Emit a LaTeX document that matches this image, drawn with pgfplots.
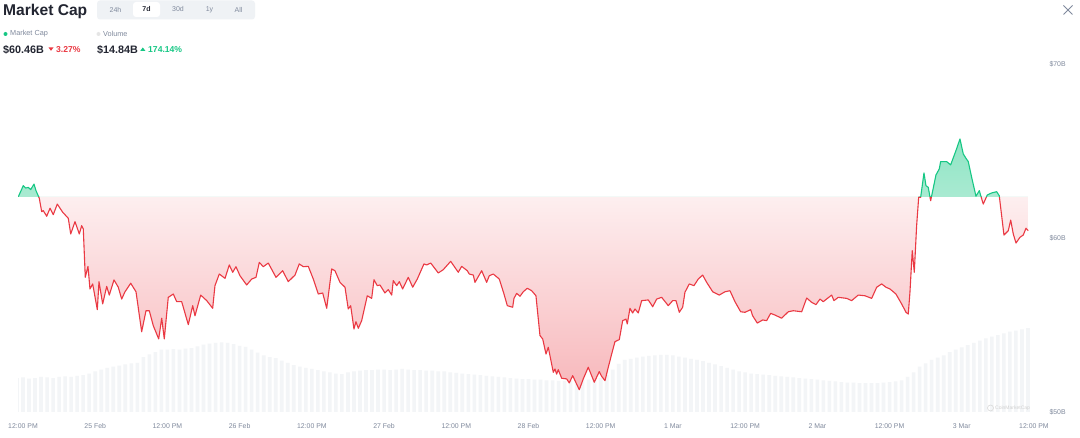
\documentclass[border=0pt]{standalone}
\usepackage{pgfplots}
\usepackage{pgfplotstable}
\pgfplotsset{compat=1.18}
\usepackage{fontspec}
\setmainfont{Liberation Sans}
\definecolor{cmcred}{RGB}{234,57,67}
\definecolor{cmcgreen}{RGB}{22,199,132}
\definecolor{lbl}{RGB}{128,138,157}
\definecolor{dark}{RGB}{34,37,49}
\definecolor{volc}{RGB}{243,245,247}
\definecolor{btnbg}{RGB}{239,242,245}

\pgfplotstableread{
h v
-0.78 62.37
0.05 63.01
0.45 62.87
0.88 62.91
1.28 62.78
1.83 63.10
2.16 62.72
2.71 62.28
3.11 61.51
3.37 61.57
3.94 61.25
4.49 61.71
5.03 61.34
5.70 61.95
6.60 61.48
7.53 61.13
7.93 60.23
8.64 60.94
9.36 60.23
9.75 60.71
10.02 60.52
10.35 57.74
10.80 58.37
11.13 57.07
11.58 57.36
12.35 55.88
12.63 57.49
13.24 56.21
13.91 57.22
14.34 56.72
15.12 57.59
15.84 57.17
16.40 56.49
16.95 56.91
17.90 57.40
18.78 56.91
19.72 54.61
20.44 55.82
20.99 55.82
21.65 54.96
22.55 54.20
23.05 55.39
23.48 54.20
24.14 56.59
24.98 56.78
25.54 56.34
26.37 56.34
27.47 55.02
28.20 56.11
28.58 55.53
29.53 56.72
30.53 56.40
31.52 55.96
31.90 57.26
32.62 57.93
33.57 57.68
34.28 58.45
34.85 58.03
35.39 58.35
36.06 57.83
37.17 57.30
38.00 57.64
38.72 57.74
39.27 58.60
39.93 58.35
40.76 58.56
42.04 57.74
43.15 58.12
44.08 57.49
45.20 57.87
45.91 58.51
46.58 58.35
47.41 58.37
48.24 57.64
49.07 56.78
49.80 56.84
50.47 55.96
51.30 58.22
51.84 58.12
52.68 57.45
53.51 57.17
54.05 55.92
54.45 56.11
55.00 54.77
55.33 55.19
55.72 54.81
56.28 55.25
57.21 56.68
57.94 56.53
58.33 57.60
58.87 57.26
59.32 57.30
60.15 56.84
60.70 57.03
61.27 56.72
61.53 57.55
62.10 57.26
62.53 57.49
63.09 57.07
64.02 57.74
64.76 57.17
65.52 57.64
66.63 58.51
67.08 58.45
67.75 58.56
69.01 57.99
69.84 58.18
71.07 58.66
72.33 58.03
72.90 58.37
73.83 58.12
74.16 57.93
74.83 57.87
75.11 57.45
76.22 58.12
77.05 57.45
77.48 57.83
78.15 57.93
79.15 57.64
79.93 56.78
80.48 56.11
81.37 56.02
81.59 56.53
82.04 56.82
82.59 56.65
83.13 56.91
83.80 57.11
84.53 56.97
85.24 56.68
85.91 54.39
86.36 54.20
86.91 53.33
87.29 53.72
88.12 52.28
88.40 52.47
88.68 52.18
88.95 52.43
89.51 51.94
90.35 51.90
90.78 51.67
91.34 52.09
92.44 51.28
93.10 51.90
93.93 52.57
94.93 51.71
95.76 52.32
96.16 52.05
96.71 51.80
97.26 52.57
97.82 53.33
98.37 54.04
99.09 54.16
99.65 55.25
100.20 55.34
100.42 55.06
100.86 55.96
101.31 55.69
101.70 55.92
102.24 55.69
102.81 56.40
103.91 56.44
104.64 56.05
105.30 56.49
106.13 56.59
107.23 56.11
107.96 56.40
108.51 56.40
109.06 55.73
109.62 56.02
110.00 56.88
110.72 57.36
111.50 57.26
112.21 57.64
112.94 57.87
113.61 57.45
114.61 56.91
115.70 56.72
116.65 56.91
117.48 56.97
118.31 56.34
119.26 55.76
119.97 55.73
120.92 55.88
121.25 55.53
122.02 55.11
122.91 55.29
123.58 55.25
124.24 55.67
124.96 55.57
126.07 55.39
127.17 55.76
128.00 55.82
129.40 55.76
130.23 56.55
131.06 56.30
131.77 56.17
132.44 56.49
132.98 56.34
134.38 56.72
134.76 56.40
135.48 56.59
136.87 56.53
137.70 56.40
138.80 56.72
139.91 56.68
141.03 56.53
141.86 57.17
142.69 57.36
143.40 57.17
144.07 57.07
145.06 56.78
146.01 56.21
146.73 55.73
147.11 55.63
147.39 56.88
147.77 59.27
148.11 58.03
148.50 60.71
148.84 62.34
149.17 62.34
149.72 63.74
150.05 63.01
150.43 62.91
150.83 62.14
151.71 63.62
152.26 63.97
152.49 64.39
153.49 64.39
154.15 64.20
155.03 65.02
155.70 65.69
156.25 64.83
156.70 64.58
157.08 64.39
157.64 63.49
158.36 62.40
158.91 62.72
159.57 61.95
160.24 62.47
160.97 62.59
161.80 62.66
162.23 62.43
163.01 60.17
163.73 60.42
164.13 61.03
164.56 60.23
165.01 59.71
165.67 60.04
166.22 60.17
166.67 60.56
167.05 60.42
}\mcap

\pgfplotstableread{
h v
-1 6.0
0 6.1
1 5.9
2 6.0
3 6.2
4 6.1
5 6.0
6 6.2
7 6.3
8 6.2
9 6.4
10 6.5
11 6.8
12 7.2
13 7.5
14 7.8
15 8.0
16 8.2
17 8.4
18 8.6
19 8.7
20 9.7
21 10.2
22 10.6
23 11.0
24 11.0
25 11.1
26 11.0
27 11.2
28 11.3
29 11.6
30 11.9
31 12.1
32 12.2
33 12.3
34 12.2
35 12.0
36 11.7
37 11.5
38 11.0
39 10.5
40 10.0
41 9.7
42 9.5
43 9.1
44 8.7
45 8.3
46 8.0
47 7.8
48 7.6
49 7.4
50 7.2
51 7.0
52 6.8
53 6.7
54 7.0
55 7.2
56 7.3
57 7.4
58 7.4
59 7.5
60 7.5
61 7.4
62 7.5
63 7.6
64 7.5
65 7.4
66 7.4
67 7.3
68 7.3
69 7.2
70 7.2
71 7.0
72 6.9
73 6.8
74 6.7
75 6.6
76 6.5
77 6.4
78 6.3
79 6.2
80 6.1
81 6.0
82 5.9
83 5.8
84 5.8
85 5.7
86 5.7
87 5.6
88 5.6
89 5.5
90 5.5
91 5.5
92 5.6
93 5.6
94 5.7
95 5.8
96 6.0
97 6.5
98 7.5
99 8.5
100 9.2
101 9.4
102 9.6
103 9.8
104 9.9
105 10.0
106 10.1
107 10.1
108 10.0
109 9.8
110 9.6
111 9.4
112 9.2
113 9.0
114 8.7
115 8.4
116 8.1
117 7.8
118 7.5
119 7.2
120 7.0
121 6.8
122 6.7
123 6.6
124 6.5
125 6.4
126 6.3
127 6.2
128 6.1
129 6.0
130 5.9
131 5.8
132 5.7
133 5.6
134 5.5
135 5.4
136 5.3
137 5.2
138 5.2
139 5.1
140 5.1
141 5.1
142 5.1
143 5.2
144 5.3
145 5.4
146 5.6
147 6.2
148 7.0
149 8.0
150 8.6
151 9.2
152 9.6
153 10.0
154 10.6
155 11.0
156 11.4
157 11.8
158 12.2
159 12.6
160 13.0
161 13.3
162 13.6
163 13.9
164 14.2
165 14.4
166 14.6
167 14.84
}\vol

\begin{document}
\begin{tikzpicture}[x=1pt,y=1pt]
\path[use as bounding box, fill=white] (0,0) rectangle (1080,438);

% ---------- volume (hidden secondary axis)
\begin{axis}[at={(18pt,26pt)}, anchor=south west, scale only axis,
  width=1019pt, height=348pt, xmin=-0.83, xmax=168.5, ymin=0, ymax=61.5,
  hide axis]
\addplot[ybar, bar width=0.6, fill=volc, draw=none] table[x=h,y=v]{\vol};
\end{axis}

% ---------- market cap
\begin{axis}[at={(18pt,26pt)}, anchor=south west, scale only axis,
  width=1019pt, height=348pt, xmin=-0.83, xmax=168.5, ymin=50, ymax=70,
  axis line style={draw=none}, tick style={draw=none}, major tick length=0pt,
  xtick={0,12,...,168},
  xticklabels={12:00 PM,25 Feb,12:00 PM,26 Feb,12:00 PM,27 Feb,12:00 PM,28 Feb,12:00 PM,1 Mar,12:00 PM,2 Mar,12:00 PM,3 Mar,12:00 PM},
  ytick={50,60,70}, yticklabels={\$50B,\$60B,\$70B},
  yticklabel pos=right,
  tick label style={font=\fontsize{6.9}{8}\selectfont, text=lbl},
  xticklabel style={yshift=-8pt},
  yticklabel style={xshift=9pt},
  clip=true]
% area below baseline (red gradient)
\begin{scope}
\clip (axis cs:-5,40) rectangle (axis cs:175,62.37);
\addplot[draw=none, bottom color=cmcred!36, middle color=cmcred!10, top color=white]
  table[x=h,y=v]{\mcap} -- (axis cs:167.05,62.37) -- (axis cs:-0.78,62.37) -- cycle;
\addplot[cmcred, line width=1.1pt, line join=round] table[x=h,y=v]{\mcap};
\end{scope}
% area above baseline (green gradient)
\begin{scope}
\clip (axis cs:-5,62.37) rectangle (axis cs:175,80);
\addplot[draw=none, bottom color=white, middle color=white, top color=cmcgreen!48]
  table[x=h,y=v]{\mcap} -- (axis cs:167.05,62.37) -- (axis cs:-0.78,62.37) -- cycle;
\addplot[cmcgreen, line width=1.1pt, line join=round] table[x=h,y=v]{\mcap};
\end{scope}
\end{axis}

% ---------- header
\node[anchor=base west, inner sep=0, font=\fontsize{15.6}{18}\selectfont\bfseries, text=dark] at (3,438-16) {Market Cap};
\fill[btnbg, rounded corners=3pt] (97,438-19.5) rectangle (255,438-0.5);
\fill[white, rounded corners=3pt] (133,438-17) rectangle (160,438-2);
\begin{scope}[every node/.style={inner sep=0, font=\fontsize{7}{8}\selectfont}]
\node[text=lbl] at (115.5,438-9.5) {24h};
\node[text=dark, font=\fontsize{7}{8}\selectfont\bfseries] at (146.5,438-9.5) {7d};
\node[text=lbl] at (178,438-9.5) {30d};
\node[text=lbl] at (209.5,438-9.5) {1y};
\node[text=lbl] at (238.5,438-9.5) {All};
\end{scope}
% legend row
\fill[cmcgreen] (5.5,438-34) circle (2pt);
\node[anchor=west, inner sep=0, font=\fontsize{7.3}{8}\selectfont, text=lbl] at (10,438-34) {Market Cap};
\fill[black!10] (98.5,438-34) circle (2pt);
\node[anchor=west, inner sep=0, font=\fontsize{7.3}{8}\selectfont, text=lbl] at (103,438-34) {Volume};
% values row
\node[anchor=base west, inner sep=0, font=\fontsize{10.8}{12}\selectfont\bfseries, text=dark] at (3,438-53.5) {\$60.46B};
\fill[cmcred] (48.5,438-47.5) -- (53.5,438-47.5) -- (51,438-50.8) -- cycle;
\node[anchor=base west, inner sep=0, font=\fontsize{8.6}{10}\selectfont\bfseries, text=cmcred] at (56,438-53) {3.27\%};
\node[anchor=base west, inner sep=0, font=\fontsize{10.8}{12}\selectfont\bfseries, text=dark] at (97,438-53.5) {\$14.84B};
\fill[cmcgreen] (140.3,438-50.8) -- (145.3,438-50.8) -- (142.8,438-47.5) -- cycle;
\node[anchor=base west, inner sep=0, font=\fontsize{8.6}{10}\selectfont\bfseries, text=cmcgreen] at (148,438-53) {174.14\%};
% close icon
\draw[lbl, line width=0.9pt] (1063.5,438-5.5) -- (1072.5,438-14.5) (1063.5,438-14.5) -- (1072.5,438-5.5);
% watermark
\draw[black!15, line width=0.6pt] (990.5,438-408) circle (3pt);
\node[anchor=west, inner sep=0, font=\fontsize{5}{6}\selectfont, text=black!18] at (995,438-408) {CoinMarketCap};
\end{tikzpicture}
\end{document}
